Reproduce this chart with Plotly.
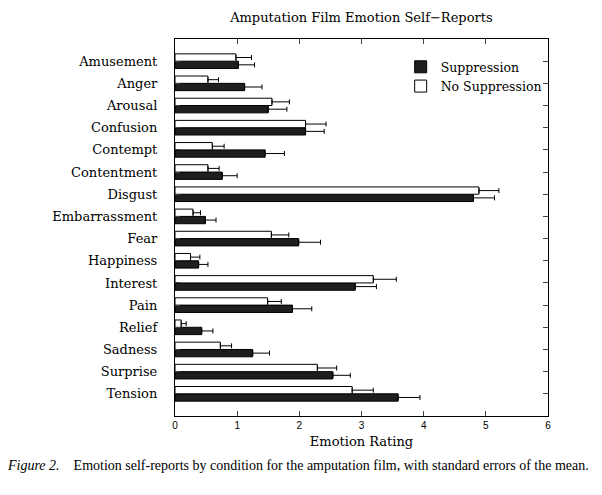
import plotly.graph_objects as go

emotions = ["Amusement", "Anger", "Arousal", "Confusion", "Contempt", "Contentment",
            "Disgust", "Embarrassment", "Fear", "Happiness", "Interest", "Pain",
            "Relief", "Sadness", "Surprise", "Tension"]

supp_mean = [1.02, 1.12, 1.50, 2.10, 1.45, 0.76, 4.80, 0.49, 1.99, 0.38, 2.90, 1.89, 0.43, 1.25, 2.54, 3.59]
supp_se = [0.26, 0.28, 0.30, 0.30, 0.31, 0.24, 0.34, 0.17, 0.35, 0.15, 0.34, 0.31, 0.18, 0.27, 0.28, 0.35]

nosupp_mean = [0.98, 0.53, 1.56, 2.10, 0.60, 0.53, 4.89, 0.29, 1.55, 0.25, 3.19, 1.49, 0.10, 0.73, 2.29, 2.85]
nosupp_se = [0.25, 0.17, 0.28, 0.33, 0.19, 0.18, 0.32, 0.12, 0.28, 0.15, 0.37, 0.22, 0.08, 0.18, 0.31, 0.34]

x_ticks = [0, 1, 2, 3, 4, 5, 6]

serif = "DejaVu Serif"

fig = go.Figure()

# suppression first -> drawn lower in each pair (category order runs bottom-up)
fig.add_trace(go.Bar(
    y=emotions, x=supp_mean, orientation="h", name="Suppression",
    marker=dict(color="#1e1e1e", line=dict(color="black", width=1)),
    error_x=dict(type="data", array=supp_se, arrayminus=[0] * len(supp_se),
                 symmetric=False, color="black", thickness=1, width=2.5),
))
fig.add_trace(go.Bar(
    y=emotions, x=nosupp_mean, orientation="h", name="No Suppression",
    marker=dict(color="white", line=dict(color="black", width=1)),
    error_x=dict(type="data", array=nosupp_se, arrayminus=[0] * len(nosupp_se),
                 symmetric=False, color="black", thickness=1, width=2.5),
))

fig.update_layout(
    width=602, height=495,
    margin=dict(l=167, r=62, t=31, b=87),
    paper_bgcolor="white", plot_bgcolor="white",
    barmode="group", bargap=0.34, bargroupgap=0,
    showlegend=True,
    legend=dict(x=0.605, y=0.965, xanchor="left", yanchor="top",
                bgcolor="rgba(0,0,0,0)", tracegroupgap=0,
                font=dict(family=serif, size=12.5, color="black")),
    title=dict(text="Amputation Film Emotion Self\u2212Reports", x=0.587, xanchor="center",
               y=0.98, yanchor="middle",
               font=dict(family=serif, size=13, color="black")),
    xaxis=dict(range=[0, 6], tickvals=x_ticks, ticks="inside", ticklen=5,
               showline=True, linecolor="black", linewidth=1.2, mirror="allticks",
               showgrid=False, zeroline=False,
               tickfont=dict(family="Liberation Sans", size=10, color="black"),
               title=dict(text="Emotion Rating", standoff=6,
                          font=dict(family=serif, size=13, color="black"))),
    yaxis=dict(type="category", categoryorder="array", categoryarray=emotions[::-1],
               range=[-1, 16], ticks="inside", ticklen=5, mirror="allticks",
               showline=True, linecolor="black", linewidth=1.2, showgrid=False,
               ticklabelstandoff=14,
               tickfont=dict(family=serif, size=13, color="black")),
)

fig.add_annotation(
    xref="paper", yref="paper", x=-0.455, y=-0.13, xanchor="left", yanchor="middle",
    showarrow=False, align="left",
    text="<i>Figure 2.</i>    Emotion self-reports by condition for the amputation film, with standard errors of the mean.",
    font=dict(family="Liberation Serif", size=14, color="black"),
)

fig.write_html("out.html")
